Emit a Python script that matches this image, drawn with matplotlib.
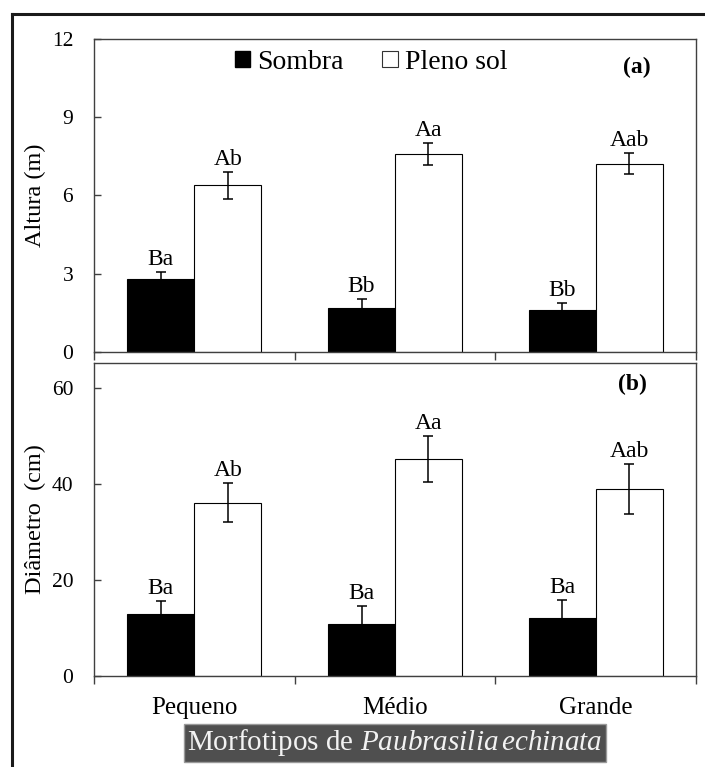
import numpy as np
import matplotlib
matplotlib.use('Agg')
import matplotlib.pyplot as plt
from matplotlib.lines import Line2D
from matplotlib.patches import Patch

plt.rcParams['font.family'] = ['Liberation Serif', 'DejaVu Serif']
plt.rcParams['mathtext.fontset'] = 'custom'
plt.rcParams['mathtext.rm'] = 'Liberation Serif'
plt.rcParams['mathtext.it'] = 'Liberation Serif:italic'

morfotipos = ['Pequeno', 'Médio', 'Grande']
series = ['Sombra', 'Pleno sol']

altura_sombra = [2.78, 1.68, 1.60]
altura_sombra_err = [0.27, 0.34, 0.26]
altura_sol = [6.40, 7.60, 7.22]
altura_sol_err = [0.52, 0.43, 0.40]
altura_letras_sombra = ['Ba', 'Bb', 'Bb']
altura_letras_sol = ['Ab', 'Aa', 'Aab']

diam_sombra = [12.9, 10.8, 12.0]
diam_sombra_err = [2.7, 3.7, 3.8]
diam_sol = [36.1, 45.1, 39.0]
diam_sol_err = [4.1, 4.8, 5.2]
diam_letras_sombra = ['Ba', 'Ba', 'Ba']
diam_letras_sol = ['Ab', 'Aa', 'Aab']

W, H = 705, 767
fig = plt.figure(figsize=(W / 100, H / 100), dpi=100)

def fx(px):
    return px / W

def fy(py):
    return 1 - py / H

ax1 = fig.add_axes([fx(94), fy(351.7), fx(696) - fx(94), fy(39.3) - fy(351.7)])
ax2 = fig.add_axes([fx(94), fy(676), fx(696) - fx(94), fy(362.7) - fy(676)])

x = np.arange(len(morfotipos))
bw = 1 / 3
spine_c = '#404040'


def painel(ax, sombra, sombra_err, sol, sol_err, let_sombra, let_sol):
    ax.bar(x - bw / 2, sombra, bw, color='black', edgecolor='black', lw=0.8)
    ax.bar(x + bw / 2, sol, bw, color='white', edgecolor='black', lw=0.8)
    ax.errorbar(x - bw / 2, sombra, yerr=sombra_err, fmt='none', ecolor='black',
                elinewidth=1.1, capsize=3.5, capthick=1.1)
    ax.errorbar(x + bw / 2, sol, yerr=sol_err, fmt='none', ecolor='black',
                elinewidth=1.1, capsize=3.5, capthick=1.1)
    for xi, v, e, t in zip(x - bw / 2, sombra, sombra_err, let_sombra):
        ax.annotate(t, (xi, v + e), xytext=(0, 5), textcoords='offset points',
                    ha='center', va='baseline', fontsize=17)
    for xi, v, e, t in zip(x + bw / 2, sol, sol_err, let_sol):
        ax.annotate(t, (xi, v + e), xytext=(0, 5), textcoords='offset points',
                    ha='center', va='baseline', fontsize=17)
    ax.set_xlim(-0.5, 2.5)
    for s in ax.spines.values():
        s.set_color(spine_c)
        s.set_linewidth(1.0)
    ax.tick_params(axis='y', direction='in', length=5, width=1, color=spine_c,
                   pad=15, labelsize=15.5)
    ax.set_xticks([-0.5, 0.5, 1.5, 2.5])
    ax.tick_params(axis='x', direction='out', length=6, width=1, color=spine_c,
                   labelbottom=False)


painel(ax1, altura_sombra, altura_sombra_err, altura_sol, altura_sol_err,
       altura_letras_sombra, altura_letras_sol)
painel(ax2, diam_sombra, diam_sombra_err, diam_sol, diam_sol_err,
       diam_letras_sombra, diam_letras_sol)

ax1.set_ylim(0, 12)
ax1.set_yticks([0, 3, 6, 9, 12])
ax2.set_ylim(0, 65.2)
ax2.set_yticks([0, 20, 40, 60])

ax2.set_xticks(x, morfotipos, minor=True)
ax2.tick_params(axis='x', which='minor', length=0, pad=15, labelsize=18)

ax1.set_ylabel('Altura (m)', fontsize=17.5)
ax2.set_ylabel('Diâmetro  (cm)', fontsize=17.5)
ax1.yaxis.set_label_coords(-0.08, 0.5)
ax2.yaxis.set_label_coords(-0.08, 0.5)

handles = [Patch(facecolor='black', edgecolor='black'),
           Patch(facecolor='white', edgecolor='#333333', lw=0.8)]
ax1.legend(handles, series, loc='center', bbox_to_anchor=(0.46, 0.926), ncol=2,
           frameon=False, fontsize=20, handlelength=0.55, handleheight=0.55,
           handletextpad=0.25, columnspacing=1.4, borderpad=0)

ax1.text(0.902, 0.91, '(a)', transform=ax1.transAxes, ha='center', va='center',
         fontsize=17, fontweight='bold')
ax2.text(0.894, 0.93, '(b)', transform=ax2.transAxes, ha='center', va='center',
         fontsize=17, fontweight='bold')

fig.text(fx(395), fy(743), r'Morfotipos de $\mathit{Paubrasilia\,echinata}$',
         ha='center', va='center', fontsize=21, color='#f2f2f2',
         bbox=dict(boxstyle='square,pad=0.12', facecolor='#4f4f4f',
                   edgecolor='#9a9a9a', lw=1))

# moldura externa
fig.add_artist(Line2D([fx(12), fx(12)], [0, fy(14)], color='#1a1a1a', lw=2.2))
fig.add_artist(Line2D([fx(12), 1], [fy(14), fy(14)], color='#1a1a1a', lw=2.2))

fig.savefig('out.png', dpi=100)
